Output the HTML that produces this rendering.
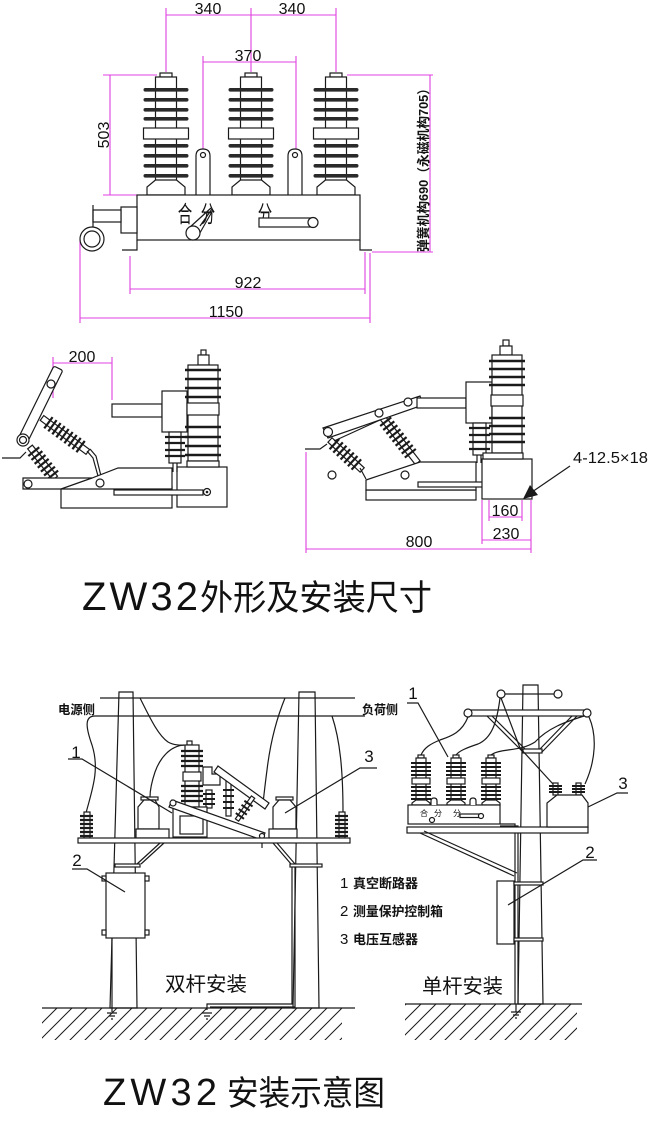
<!DOCTYPE html>
<html><head><meta charset="utf-8">
<style>
html,body{margin:0;padding:0;background:#fff;}
svg{display:block;}
text{font-family:"Liberation Sans","Noto Sans CJK SC",sans-serif;fill:#111;}
.k{fill:none;stroke:#1a1a1a;stroke-width:1.2;}
.w{fill:#fff;stroke:#1a1a1a;stroke-width:1.2;}
.m{fill:none;stroke:#e040e0;stroke-width:1.1;}
.d{fill:#2a2a2a;stroke:none;}
</style></head><body>
<svg width="650" height="1124" viewBox="0 0 650 1124" xmlns="http://www.w3.org/2000/svg">
<defs>
  <g id="ins">
    <rect class="w" x="-6" y="0" width="12" height="4"/>
    <rect class="w" x="-10.5" y="4" width="21" height="104"/>
    <rect class="d" x="-22.5" y="15" width="45" height="3.6" rx="1.8"/>
    <rect class="d" x="-22.5" y="25" width="45" height="3.6" rx="1.8"/>
    <rect class="d" x="-22.5" y="35" width="45" height="3.6" rx="1.8"/>
    <rect class="d" x="-22.5" y="44" width="45" height="3.6" rx="1.8"/>
    <rect class="w" x="-22.5" y="55" width="45" height="11"/>
    <rect class="d" x="-22.5" y="71" width="45" height="3.6" rx="1.8"/>
    <rect class="d" x="-22.5" y="81" width="45" height="3.6" rx="1.8"/>
    <rect class="d" x="-22.5" y="91" width="45" height="3.6" rx="1.8"/>
    <rect class="d" x="-22.5" y="101" width="45" height="3.6" rx="1.8"/>
    <path class="w" d="M-10.5,107 L-19,114 L-19,122 L19,122 L19,114 L10.5,107 Z"/>
  </g>
  <g id="mini">
    <rect class="w" x="-3" y="0" width="6" height="3"/>
    <rect class="w" x="-5" y="3" width="10" height="45"/>
    <g stroke="#1a1a1a" stroke-width="2">
      <line x1="-10" y1="8" x2="10" y2="8"/><line x1="-10" y1="12" x2="10" y2="12"/>
      <line x1="-10" y1="16" x2="10" y2="16"/><line x1="-10" y1="20" x2="10" y2="20"/>
      <line x1="-10" y1="32" x2="10" y2="32"/><line x1="-10" y1="36" x2="10" y2="36"/>
      <line x1="-10" y1="40" x2="10" y2="40"/><line x1="-10" y1="44" x2="10" y2="44"/>
    </g>
    <rect class="w" x="-9" y="23" width="18" height="6"/>
    <path class="w" d="M-5,45 L-9,48 V50 H9 V48 L5,45 Z"/>
  </g>
  <pattern id="hatch" width="15" height="15" patternUnits="userSpaceOnUse">
    <path d="M0,15 L15,0 M-3,3 L3,-3 M12,18 L18,12" stroke="#1a1a1a" stroke-width="1"/>
  </pattern>
</defs>

<!-- ===================== FRONT VIEW ===================== -->
<g class="m">
  <line x1="166" y1="15" x2="336" y2="15"/>
  <line x1="166" y1="8" x2="166" y2="72"/>
  <line x1="251" y1="8" x2="251" y2="72"/>
  <line x1="336" y1="8" x2="336" y2="72"/>
  <line x1="203" y1="62" x2="296" y2="62"/>
  <line x1="203" y1="56" x2="203" y2="149"/>
  <line x1="296" y1="56" x2="296" y2="149"/>
  <line x1="110" y1="75" x2="110" y2="195"/>
  <line x1="103" y1="75" x2="157" y2="75"/>
  <line x1="103" y1="195" x2="137" y2="195"/>
  <line x1="130" y1="289" x2="365" y2="289"/>
  <line x1="130" y1="256" x2="130" y2="294"/>
  <line x1="365" y1="252" x2="365" y2="294"/>
  <line x1="80" y1="318" x2="370" y2="318"/>
  <line x1="80" y1="240" x2="80" y2="323"/>
  <line x1="370" y1="253" x2="370" y2="323"/>
  <line x1="430" y1="75" x2="430" y2="252"/>
  <line x1="347" y1="75" x2="433" y2="75"/>
  <line x1="372" y1="252" x2="433" y2="252"/>
</g>
<text x="208" y="14" font-size="16" text-anchor="middle">340</text>
<text x="292" y="14" font-size="16" text-anchor="middle">340</text>
<text x="248" y="61" font-size="16" text-anchor="middle">370</text>
<text x="248" y="288" font-size="16" text-anchor="middle">922</text>
<text x="226" y="317" font-size="16" text-anchor="middle">1150</text>
<text transform="translate(109,135) rotate(-90)" font-size="16" text-anchor="middle">503</text>
<text transform="translate(428,167) rotate(-90)" font-size="13" font-weight="bold" text-anchor="middle" textLength="170" lengthAdjust="spacingAndGlyphs">弹簧机构690（永磁机构705）</text>

<use href="#ins" x="166" y="73"/>
<use href="#ins" x="251" y="73"/>
<use href="#ins" x="336" y="73"/>
<path class="w" d="M196,195 V156 Q196,149 203,149 Q210,149 210,156 V195"/>
<circle class="k" cx="203" cy="155" r="2.5"/>
<path class="w" d="M288,195 V156 Q288,149 295,149 Q302,149 302,156 V195"/>
<circle class="k" cx="295" cy="155" r="2.5"/>
<rect class="w" x="137" y="195" width="223" height="45"/>
<path class="k" d="M137,240 V250 H122 M360,240 V250 H372"/>
<rect class="w" x="121" y="207" width="16" height="26"/>
<rect class="w" x="93" y="210" width="28" height="12"/>
<line class="k" x1="93" y1="205" x2="93" y2="233"/>
<circle class="w" cx="92" cy="239" r="12"/>
<circle class="w" cx="92" cy="239" r="8"/>
<text transform="translate(185,222) scale(0.85,1.35)" font-size="17" text-anchor="middle">合</text>
<text transform="translate(208,222) scale(0.85,1.35)" font-size="17" text-anchor="middle">分</text>
<text transform="translate(265,222) scale(0.85,1.35)" font-size="17" text-anchor="middle">分</text>
<path class="k" d="M189,228 L211,208 M197,238 L213,210 M200,226 L212,209"/>
<circle class="w" cx="193" cy="233" r="7"/>
<rect class="w" x="259" y="218" width="53" height="9"/>
<circle class="w" cx="313" cy="222.5" r="5"/>

<!-- ===================== SIDE VIEW 1 ===================== -->
<g class="m">
  <line x1="53" y1="363" x2="112" y2="363"/>
  <line x1="53" y1="357" x2="53" y2="398"/>
  <line x1="112" y1="357" x2="112" y2="400"/>
</g>
<text x="82" y="362" font-size="16" text-anchor="middle">200</text>
<path class="k" d="M2,458 H20 L26,452"/>
<g transform="translate(30,447) rotate(51)">
  <rect class="w" x="0" y="-3" width="40" height="6"/>
  <g stroke="#1a1a1a" stroke-width="2.2">
    <line x1="6" y1="-7" x2="6" y2="7"/><line x1="11" y1="-7" x2="11" y2="7"/>
    <line x1="16" y1="-7" x2="16" y2="7"/><line x1="21" y1="-7" x2="21" y2="7"/>
    <line x1="26" y1="-7" x2="26" y2="7"/><line x1="31" y1="-7" x2="31" y2="7"/>
    <line x1="36" y1="-7" x2="36" y2="7"/>
  </g>
</g>
<g transform="translate(42,418) rotate(36.5)">
  <rect class="w" x="0" y="-3" width="57" height="6"/>
  <g stroke="#1a1a1a" stroke-width="2.2">
    <line x1="8" y1="-7" x2="8" y2="7"/><line x1="13" y1="-7" x2="13" y2="7"/>
    <line x1="18" y1="-7" x2="18" y2="7"/><line x1="23" y1="-7" x2="23" y2="7"/>
    <line x1="28" y1="-7" x2="28" y2="7"/><line x1="33" y1="-7" x2="33" y2="7"/>
    <line x1="38" y1="-7" x2="38" y2="7"/><line x1="43" y1="-7" x2="43" y2="7"/>
    <line x1="48" y1="-7" x2="48" y2="7"/>
  </g>
</g>
<path class="k" d="M87,451 L93,458 L98,476 M90,449 L96,456 L101,476"/>
<g transform="translate(23,440) rotate(-63.8)">
  <rect class="w" x="-2" y="-5" width="82" height="10" rx="2"/>
</g>
<circle class="w" cx="51" cy="384" r="4"/>
<circle class="w" cx="23" cy="440" r="6"/>
<circle class="k" cx="23" cy="440" r="3.5"/>
<rect class="w" x="61" y="487" width="111" height="21"/>
<path class="w" d="M23,478 H92 L118,468 H172 V489 H23 Z"/>
<line class="k" x1="61" y1="489" x2="92" y2="478"/>
<circle class="w" cx="28" cy="484" r="4"/>
<circle class="w" cx="100" cy="483" r="4"/>
<rect class="w" x="177" y="467" width="50" height="40"/>
<rect class="w" x="114" y="490" width="89" height="5"/>
<circle class="w" cx="207" cy="492" r="3.5"/>
<circle cx="207" cy="492" r="1.3" fill="#1a1a1a"/>
<rect class="w" x="112" y="404" width="50" height="13"/>
<rect class="w" x="162" y="391" width="25" height="41"/>
<rect class="w" x="169" y="432" width="12" height="31"/>
<g stroke="#1a1a1a" stroke-width="2.2">
  <line x1="165" y1="437" x2="185" y2="437"/><line x1="165" y1="443" x2="185" y2="443"/>
  <line x1="165" y1="450" x2="185" y2="450"/><line x1="165" y1="456" x2="185" y2="456"/>
</g>
<path class="k" d="M173,463 V472 M177,463 V472"/>
<rect class="w" x="201" y="350" width="5" height="5"/>
<rect class="w" x="198" y="355" width="11" height="10"/>
<rect class="w" x="188" y="365" width="30" height="96"/>
<g stroke="#1a1a1a" stroke-width="2.4">
  <line x1="185" y1="370" x2="221" y2="370"/><line x1="185" y1="379" x2="221" y2="379"/>
  <line x1="185" y1="388" x2="221" y2="388"/><line x1="185" y1="397" x2="221" y2="397"/>
  <line x1="185" y1="427" x2="221" y2="427"/><line x1="185" y1="437" x2="221" y2="437"/>
  <line x1="185" y1="446" x2="221" y2="446"/><line x1="185" y1="455" x2="221" y2="455"/>
</g>
<rect class="w" x="187" y="403" width="32" height="12"/>
<rect class="w" x="187" y="461" width="32" height="6"/>

<!-- ===================== SIDE VIEW 2 ===================== -->
<path class="k" d="M305,449 H320 L327,444"/>
<g transform="translate(330,440) rotate(43)">
  <rect class="w" x="0" y="-3" width="44" height="6"/>
  <g stroke="#1a1a1a" stroke-width="2.2">
    <line x1="6" y1="-7" x2="6" y2="7"/><line x1="11" y1="-7" x2="11" y2="7"/>
    <line x1="16" y1="-7" x2="16" y2="7"/><line x1="21" y1="-7" x2="21" y2="7"/>
    <line x1="26" y1="-7" x2="26" y2="7"/><line x1="31" y1="-7" x2="31" y2="7"/>
    <line x1="36" y1="-7" x2="36" y2="7"/>
  </g>
</g>
<g transform="translate(382,417) rotate(52)">
  <rect class="w" x="0" y="-3" width="58" height="6"/>
  <g stroke="#1a1a1a" stroke-width="2.2">
    <line x1="6" y1="-7" x2="6" y2="7"/><line x1="11" y1="-7" x2="11" y2="7"/>
    <line x1="16" y1="-7" x2="16" y2="7"/><line x1="21" y1="-7" x2="21" y2="7"/>
    <line x1="26" y1="-7" x2="26" y2="7"/><line x1="31" y1="-7" x2="31" y2="7"/>
    <line x1="36" y1="-7" x2="36" y2="7"/><line x1="41" y1="-7" x2="41" y2="7"/>
    <line x1="46" y1="-7" x2="46" y2="7"/>
  </g>
</g>
<path class="k" d="M360,468 L366,479"/>
<path class="w" d="M323,428 L420,396 L423,405 L328,438 Z"/>
<line class="k" x1="334" y1="441" x2="380" y2="420"/>
<circle class="w" cx="328" cy="432" r="4.5"/>
<circle class="w" cx="379" cy="413" r="4"/>
<circle class="w" cx="408" cy="402" r="4"/>
<circle class="w" cx="332" cy="475" r="4"/>
<rect class="w" x="366" y="490" width="110" height="10"/>
<path class="w" d="M366,480 L420,462 H476 V490 H366 Z"/>
<circle class="w" cx="405" cy="475" r="4"/>
<rect class="w" x="418" y="482" width="93" height="5"/>
<rect class="w" x="417" y="398" width="49" height="10"/>
<rect class="w" x="466" y="382" width="26" height="41"/>
<rect class="w" x="473" y="423" width="13" height="32"/>
<g stroke="#1a1a1a" stroke-width="2.2">
  <line x1="469" y1="428" x2="490" y2="428"/><line x1="469" y1="435" x2="490" y2="435"/>
  <line x1="469" y1="442" x2="490" y2="442"/><line x1="469" y1="449" x2="490" y2="449"/>
</g>
<path class="k" d="M477,455 V463 M481,455 V463"/>
<rect class="w" x="482" y="459" width="50" height="40"/>
<rect class="w" x="503" y="340" width="6" height="6"/>
<rect class="w" x="500" y="346" width="12" height="9"/>
<rect class="w" x="492" y="355" width="30" height="98"/>
<g stroke="#1a1a1a" stroke-width="2.4">
  <line x1="489" y1="361" x2="525" y2="361"/><line x1="489" y1="369" x2="525" y2="369"/>
  <line x1="489" y1="377" x2="525" y2="377"/><line x1="489" y1="385" x2="525" y2="385"/>
  <line x1="489" y1="418" x2="525" y2="418"/><line x1="489" y1="426" x2="525" y2="426"/>
  <line x1="489" y1="434" x2="525" y2="434"/><line x1="489" y1="442" x2="525" y2="442"/>
</g>
<rect class="w" x="491" y="395" width="32" height="11"/>
<rect class="w" x="483" y="453" width="40" height="6"/>
<line class="k" x1="570" y1="466" x2="532" y2="492"/>
<polygon points="523,499 530,485 538,495" fill="#1a1a1a"/>
<text x="573" y="463" font-size="16" textLength="75" lengthAdjust="spacingAndGlyphs">4-12.5×18</text>
<g class="m">
  <line x1="489" y1="517" x2="522" y2="517"/>
  <line x1="489" y1="500" x2="489" y2="521"/>
  <line x1="522" y1="500" x2="522" y2="521"/>
  <line x1="482" y1="540" x2="531" y2="540"/>
  <line x1="482" y1="500" x2="482" y2="544"/>
  <line x1="531" y1="500" x2="531" y2="553"/>
  <line x1="306" y1="549" x2="531" y2="549"/>
  <line x1="306" y1="452" x2="306" y2="553"/>
</g>
<text x="505" y="516" font-size="16" text-anchor="middle">160</text>
<text x="506" y="539" font-size="16" text-anchor="middle">230</text>
<text x="419" y="547" font-size="16" text-anchor="middle">800</text>

<!-- TITLE 1 -->
<text x="82" y="610" font-size="40" textLength="116" lengthAdjust="spacing">ZW32</text>
<text x="200" y="610" font-size="35" textLength="232" lengthAdjust="spacingAndGlyphs">外形及安装尺寸</text>

<!-- ===================== DOUBLE POLE ===================== -->
<path class="w" d="M119,692 H133 L137,1008 H110 Z"/>
<path class="w" d="M299,692 H315 L319,1008 H293 Z"/>
<line class="k" x1="100" y1="698" x2="355" y2="698"/>
<line class="k" x1="95" y1="716" x2="365" y2="716"/>
<text x="58" y="714" font-size="12.5" font-weight="bold" textLength="37" lengthAdjust="spacingAndGlyphs">电源侧</text>
<text x="362" y="714" font-size="12.5" font-weight="bold" textLength="36" lengthAdjust="spacingAndGlyphs">负荷侧</text>
<g class="k">
  <path d="M140,698 C150,718 158,735 168,742 C175,746 182,745 189,745"/>
  <path d="M95,716 C84,716 86,728 92,745 C100,770 92,790 86,813"/>
  <path d="M184,745 C170,746 160,758 155,772 C151,784 150,792 150,797"/>
  <path d="M285,698 C276,720 270,745 267,770 C265,785 264,795 263,803"/>
  <path d="M332,716 C340,740 343,770 343,813"/>
</g>
<g>
  <rect class="w" x="84" y="812" width="6" height="26"/>
  <g stroke="#1a1a1a" stroke-width="2.2">
    <line x1="80" y1="816" x2="93" y2="816"/><line x1="80" y1="820" x2="93" y2="820"/>
    <line x1="80" y1="824" x2="93" y2="824"/><line x1="80" y1="828" x2="93" y2="828"/>
    <line x1="80" y1="832" x2="93" y2="832"/><line x1="80" y1="836" x2="93" y2="836"/>
  </g>
  <rect class="w" x="339" y="812" width="6" height="26"/>
  <g stroke="#1a1a1a" stroke-width="2.2">
    <line x1="335" y1="816" x2="348" y2="816"/><line x1="335" y1="820" x2="348" y2="820"/>
    <line x1="335" y1="824" x2="348" y2="824"/><line x1="335" y1="828" x2="348" y2="828"/>
    <line x1="335" y1="832" x2="348" y2="832"/><line x1="335" y1="836" x2="348" y2="836"/>
  </g>
</g>
<rect class="w" x="141" y="797" width="17" height="3"/>
<path class="w" d="M138,829 V807 L144,800 H155 L159,807 V829 Z"/>
<rect class="w" x="136" y="829" width="33" height="9"/>
<rect class="w" x="276" y="797" width="17" height="3"/>
<path class="w" d="M273,829 V807 L279,800 H290 L296,807 V829 Z"/>
<rect class="w" x="269" y="829" width="28" height="9"/>
<rect class="w" x="187" y="741" width="5" height="4"/>
<rect class="w" x="185" y="745" width="14" height="62"/>
<g stroke="#1a1a1a" stroke-width="2.2">
  <line x1="181" y1="751" x2="203" y2="751"/><line x1="181" y1="756" x2="203" y2="756"/>
  <line x1="181" y1="761" x2="203" y2="761"/><line x1="181" y1="766" x2="203" y2="766"/>
  <line x1="181" y1="786" x2="203" y2="786"/><line x1="181" y1="791" x2="203" y2="791"/>
  <line x1="181" y1="796" x2="203" y2="796"/><line x1="181" y1="801" x2="203" y2="801"/>
</g>
<rect class="w" x="183" y="772" width="18" height="9"/>
<path class="w" d="M203,767 H212 V774 H220 V785 H203 Z"/>
<rect class="w" x="206" y="790" width="6" height="18"/>
<g stroke="#1a1a1a" stroke-width="2"><line x1="203" y1="794" x2="215" y2="794"/><line x1="203" y1="799" x2="215" y2="799"/><line x1="203" y1="804" x2="215" y2="804"/></g>
<rect class="w" x="226" y="780" width="5" height="36"/>
<g stroke="#1a1a1a" stroke-width="2"><line x1="223" y1="790" x2="234" y2="790"/><line x1="223" y1="796" x2="234" y2="796"/><line x1="223" y1="802" x2="234" y2="802"/><line x1="223" y1="808" x2="234" y2="808"/></g>
<path class="w" d="M218,766 L269,803 L265,809 L214,772 Z"/>
<g transform="translate(237,820) rotate(-55)">
  <rect class="w" x="0" y="-2" width="28" height="4"/>
  <g stroke="#1a1a1a" stroke-width="2"><line x1="5" y1="-5" x2="5" y2="5"/><line x1="10" y1="-5" x2="10" y2="5"/><line x1="15" y1="-5" x2="15" y2="5"/><line x1="20" y1="-5" x2="20" y2="5"/></g>
</g>
<rect class="w" x="173" y="807" width="34" height="30"/>
<rect class="w" x="180" y="816" width="23" height="18"/>
<path class="w" d="M172,800 L265,833 L262,840 L169,807 Z"/>
<circle class="w" cx="173" cy="803" r="3"/>
<circle class="w" cx="262" cy="836" r="2.5"/>
<line class="k" x1="262" y1="838" x2="262" y2="848"/>
<rect class="w" x="78" y="838" width="272" height="5"/>
<text x="76" y="758" font-size="17" text-anchor="middle">1</text>
<path class="k" d="M68,759 H82 L172,813"/>
<text x="369" y="762" font-size="17" text-anchor="middle">3</text>
<path class="k" d="M377,768 H360 L285,813"/>
<path class="k" d="M160,843 L137,864 M164,843 L141,864"/>
<path class="k" d="M273,843 L291,864 M277,843 L295,864"/>
<rect class="w" x="115" y="864" width="25" height="3"/>
<rect class="w" x="290" y="864" width="32" height="3"/>
<rect class="w" x="106" y="873" width="39" height="65"/>
<rect class="w" x="102" y="876" width="4" height="5"/>
<rect class="w" x="145" y="876" width="4" height="5"/>
<rect class="w" x="102" y="930" width="4" height="5"/>
<rect class="w" x="145" y="930" width="4" height="5"/>
<text x="77" y="866" font-size="17" text-anchor="middle">2</text>
<path class="k" d="M72,869 H87 L125,892"/>
<path class="k" d="M292,867 V1004 H207 V1010 M295,867 V1007 H210"/>
<path class="k" d="M112,938 V1012"/>
<rect x="42" y="1008" width="300" height="32" fill="url(#hatch)"/>
<rect x="342" y="1008" width="14" height="32" fill="#fff"/>
<line class="k" x1="42" y1="1008" x2="355" y2="1008"/>
<path class="k" d="M107,1013 H117 M109,1016 H115 M111,1019 H113"/>
<path class="k" d="M202,1013 H212 M204,1016 H210 M206,1019 H208"/>
<text x="165" y="991" font-size="20" textLength="82" lengthAdjust="spacingAndGlyphs">双杆安装</text>
<text x="340" y="888" font-size="15">1</text>
<text x="353" y="888" font-size="13" font-weight="bold" textLength="65" lengthAdjust="spacingAndGlyphs">真空断路器</text>
<text x="340" y="916" font-size="15">2</text>
<text x="353" y="916" font-size="13" font-weight="bold" textLength="90" lengthAdjust="spacingAndGlyphs">测量保护控制箱</text>
<text x="340" y="944" font-size="15">3</text>
<text x="353" y="944" font-size="13" font-weight="bold" textLength="65" lengthAdjust="spacingAndGlyphs">电压互感器</text>

<!-- ===================== SINGLE POLE ===================== -->
<path class="w" d="M523,685 H538 L543,1004 H518 Z"/>
<line class="k" x1="501" y1="694" x2="558" y2="694"/>
<rect class="w" x="468" y="710" width="119" height="6"/>
<path class="k" d="M487,716 L523,752 M492,716 L525,749 M577,716 L542,752 M572,716 L540,749"/>
<rect class="w" x="523" y="749" width="19" height="4"/>
<circle class="w" cx="501" cy="694" r="4"/>
<circle class="w" cx="558" cy="694" r="4"/>
<circle class="w" cx="468" cy="713" r="4"/>
<circle class="w" cx="587" cy="713" r="4"/>
<g class="k">
  <path d="M468,717 C462,732 452,736 440,740 C430,744 424,748 421,755"/>
  <path d="M500,698 C497,722 492,738 478,744 C466,748 459,751 456,755"/>
  <path d="M584,716 C565,722 548,728 535,742 C520,752 500,748 491,755"/>
  <path d="M501,698 L520,748 L553,784"/>
  <path d="M589,717 C597,735 596,760 585,784"/>
</g>
<use href="#mini" x="421" y="755"/>
<use href="#mini" x="456" y="755"/>
<use href="#mini" x="491" y="755"/>
<rect class="w" x="408" y="805" width="92" height="19"/>
<path class="w" d="M431,805 V801 Q431,798 434,798 Q437,798 437,801 V805"/>
<path class="w" d="M470,805 V801 Q470,798 473,798 Q476,798 476,801 V805"/>
<text x="424" y="816" font-size="8" text-anchor="middle">合</text>
<text x="438" y="816" font-size="8" text-anchor="middle">分</text>
<text x="457" y="816" font-size="8" text-anchor="middle">分</text>
<rect class="w" x="460" y="814" width="20" height="3.5"/>
<circle class="w" cx="481" cy="816" r="2.5"/>
<circle class="w" cx="432" cy="820" r="2.5"/>
<path class="k" d="M500,824 H515 V1004 M500,826 H518 V1004"/>
<rect class="w" x="407" y="827" width="181" height="6"/>
<rect class="w" x="553" y="783" width="5" height="12"/>
<g stroke="#1a1a1a" stroke-width="2"><line x1="549" y1="786" x2="562" y2="786"/><line x1="549" y1="789" x2="562" y2="789"/><line x1="549" y1="792" x2="562" y2="792"/></g>
<rect class="w" x="576" y="783" width="5" height="12"/>
<g stroke="#1a1a1a" stroke-width="2"><line x1="572" y1="786" x2="585" y2="786"/><line x1="572" y1="789" x2="585" y2="789"/><line x1="572" y1="792" x2="585" y2="792"/></g>
<path class="w" d="M547,827 V803 L557,795 H582 L588,803 V827 Z"/>
<text x="413" y="699" font-size="17" text-anchor="middle">1</text>
<path class="k" d="M407,703 H418 L448,757"/>
<text x="623" y="789" font-size="17" text-anchor="middle">3</text>
<path class="k" d="M628,793 H617 L588,807"/>
<path class="k" d="M420,833 L514,876 M424,831 L517,873"/>
<rect class="w" x="497" y="881" width="17" height="63"/>
<rect class="w" x="514" y="882" width="29" height="3"/>
<rect class="w" x="514" y="938" width="29" height="3"/>
<text x="590" y="858" font-size="17" text-anchor="middle">2</text>
<path class="k" d="M597,860 H583 L508,905"/>
<rect x="405" y="1004" width="172" height="36" fill="url(#hatch)"/>
<line class="k" x1="405" y1="1004" x2="582" y2="1004"/>
<path class="k" d="M516,1004 V1012 M511,1012 H521 M513,1015 H519 M515,1018 H517"/>
<text x="422" y="993" font-size="20" textLength="81" lengthAdjust="spacingAndGlyphs">单杆安装</text>

<!-- TITLE 2 -->
<text x="103" y="1105" font-size="38" textLength="114" lengthAdjust="spacing">ZW32</text>
<text x="227" y="1105" font-size="34" textLength="158" lengthAdjust="spacingAndGlyphs">安装示意图</text>
</svg>
</body></html>
